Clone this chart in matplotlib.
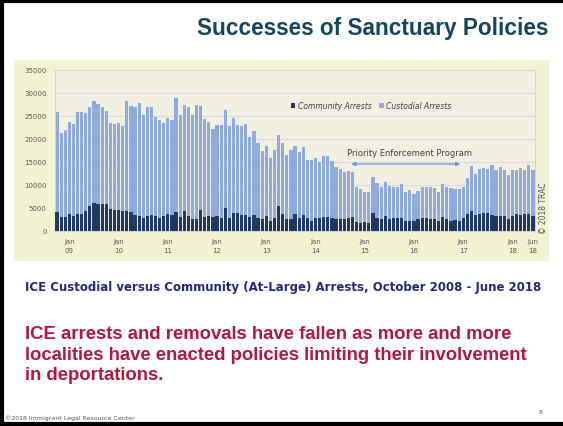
import numpy as np
import pandas as pd
import matplotlib.pyplot as plt
from matplotlib.patches import Rectangle
from matplotlib.lines import Line2D

# monthly ICE arrests, Oct 2008 - Jun 2018
months = pd.period_range('2008-10', '2018-06', freq='M')

custodial = [
    25700, 21200, 21900, 23700, 23100, 25700, 25700, 25500, 26800, 28200,
    27500, 27000, 26100, 23400, 23300, 23500, 22800, 28100, 27200, 26800,
    27800, 25100, 27000, 26800, 24800, 24100, 23400, 24600, 24100, 28800,
    25200, 27300, 27000, 25200, 27300, 27100, 24300, 23700, 22100, 23000,
    23000, 26200, 22700, 24600, 23000, 22700, 23100, 20300, 21700, 19100,
    17400, 18400, 15800, 17600, 20800, 19000, 16400, 17500, 18400, 17100,
    18100, 15400, 15400, 15800, 14900, 16200, 16300, 15100, 13800, 13400,
    12800, 13000, 12800, 9600, 9100, 8500, 8400, 11700, 10400, 9400,
    10500, 9700, 9400, 9600, 10100, 8500, 8800, 8000, 8700, 9600,
    9500, 9600, 9200, 8500, 10100, 9400, 9300, 9000, 9000, 9500,
    11500, 14100, 12400, 13500, 13600, 13400, 14300, 13100, 13800, 13200,
    12200, 13100, 13100, 13600, 13300, 14200, 13300,
]

community = [
    4100, 2900, 3000, 3600, 3200, 3600, 3600, 4200, 5400, 6000,
    5700, 5700, 5700, 4700, 4500, 4400, 4200, 4200, 4100, 3400,
    3300, 2700, 3100, 3400, 3100, 2800, 3100, 3600, 3400, 4100,
    2900, 4200, 3100, 2600, 2600, 4400, 3000, 3100, 3000, 3100,
    2800, 5000, 2800, 3800, 3800, 3400, 3500, 2900, 3400, 2800,
    2600, 3200, 2000, 2800, 5400, 3600, 2500, 2600, 3700, 2700,
    3500, 2700, 2200, 2800, 2700, 2900, 2900, 2800, 2500, 2600,
    2500, 2800, 2900, 1800, 1600, 1800, 1600, 3900, 2800, 2600,
    3100, 2600, 2800, 2700, 2700, 2000, 2000, 2000, 2600, 2700,
    2700, 2600, 2500, 2200, 3000, 2600, 2200, 2400, 2200, 2700,
    3600, 4200, 3400, 3700, 3900, 3800, 3400, 3300, 3300, 3100,
    2600, 3300, 3600, 3400, 3700, 3600, 3200,
]

pep_start, pep_end = pd.Period('2014-11', 'M'), pd.Period('2017-01', 'M')

light_blue = '#8FAADC'
navy = '#203864'

fig = plt.figure(figsize=(5.63, 4.27), dpi=100)
fig.patch.set_facecolor('white')

# slide frame
for xs, ys in [([0.003, 0.003], [0, 1]), ([0, 1], [0.996, 0.996]), ([0, 1], [0.004, 0.004])]:
    fig.add_artist(Line2D(xs, ys, transform=fig.transFigure, color='black', lw=3))

fig.text(0.974, 0.934, 'Successes of Sanctuary Policies', ha='right', va='center',
         fontsize=16.3, fontweight='bold', color='#17455E', family='Liberation Sans')

# chart backdrop
fig.add_artist(Rectangle((0.025, 0.386), 0.95, 0.471, transform=fig.transFigure,
                         facecolor='#F3F3D3', edgecolor='none', zorder=0))

ax = fig.add_axes([0.0977, 0.4574, 0.8526, 0.377])
ax.set_facecolor('#F2F0E2')
x = np.arange(len(months))
ax.bar(x, custodial, width=0.78, color=light_blue, label='Custodial Arrests', zorder=2)
ax.bar(x, community, width=0.78, color=navy, label='Community Arrests', zorder=3)

ax.set_xlim(-0.5, len(months) - 0.5)
ax.set_ylim(0, 35000)
ax.set_yticks(range(0, 35001, 5000))
ax.yaxis.grid(True, color='#DADADA', lw=0.8, zorder=0)
ax.set_axisbelow(True)
for s in ax.spines.values():
    s.set_color('#D5D5D5')
    s.set_linewidth(0.8)

tick_idx = [i for i, m in enumerate(months) if m.month == 1] + [len(months) - 1]
tick_lab = [('Jan' if months[i].month == 1 else 'Jun') + '\n' + months[i].strftime('%y')
            for i in tick_idx]
ax.set_xticks(tick_idx)
ax.set_xticklabels(tick_lab)
ax.tick_params(length=0, labelsize=5, colors='#595959')
ax.tick_params(axis='y', pad=6)
ax.tick_params(axis='x', pad=5)
for t in ax.get_xticklabels():
    t.set_linespacing(1.7)

# Priority Enforcement Program span
p0 = list(months).index(pep_start)
p1 = list(months).index(pep_end)
ax.annotate('', xy=(p0 - 1.3, 14500), xytext=(p1 - 0.7, 14500),
            arrowprops=dict(arrowstyle='<|-|>', color='#5B9BD5', lw=0.9,
                            mutation_scale=6, shrinkA=0, shrinkB=0))
ax.text((p0 + p1) / 2, 17000, 'Priority Enforcement Program', ha='center',
        va='center', fontsize=6, color='#404040')

handles, labels = ax.get_legend_handles_labels()
leg = ax.legend(handles[::-1], labels[::-1], ncol=2, frameon=False, loc='center',
                bbox_to_anchor=(0.658, 0.775), fontsize=5.5, handlelength=0.6,
                handleheight=0.6, handletextpad=0.3, columnspacing=1.0)
for t in leg.get_texts():
    t.set_style('italic')
    t.set_color('#404040')

fig.text(0.9645, 0.512, '© 2018 TRAC', rotation=90, ha='center', va='center',
         fontsize=5.5, color='#505050')

fig.text(0.044, 0.327, 'ICE Custodial versus Community (At-Large) Arrests, October 2008 - June 2018',
         ha='left', va='center', fontsize=8.5, fontweight='bold', color='#1F2A78')

# red statement: size it so the longest line spans the same width as the slide
msg = fig.text(0.044, 0.1686,
               'ICE arrests and removals have fallen as more and more\n'
               'localities have enacted policies limiting their involvement\n'
               'in deportations.',
               ha='left', va='center', fontsize=12, fontweight='bold', color='#B01840',
               family='Liberation Sans')
r = fig.canvas.get_renderer()
fs = 12 * 502 / msg.get_window_extent(r).width
msg.set_fontsize(fs)
msg.set_linespacing(23.5 / (fs * 100 / 72))

fig.text(0.009, 0.021, '©2018 Immigrant Legal Resource Center', ha='left', va='center',
         fontsize=4.5, color='#555555')
fig.text(0.96, 0.035, '8', ha='center', va='center', fontsize=4.5, color='#555555')

fig.savefig('out.png', dpi=100)
